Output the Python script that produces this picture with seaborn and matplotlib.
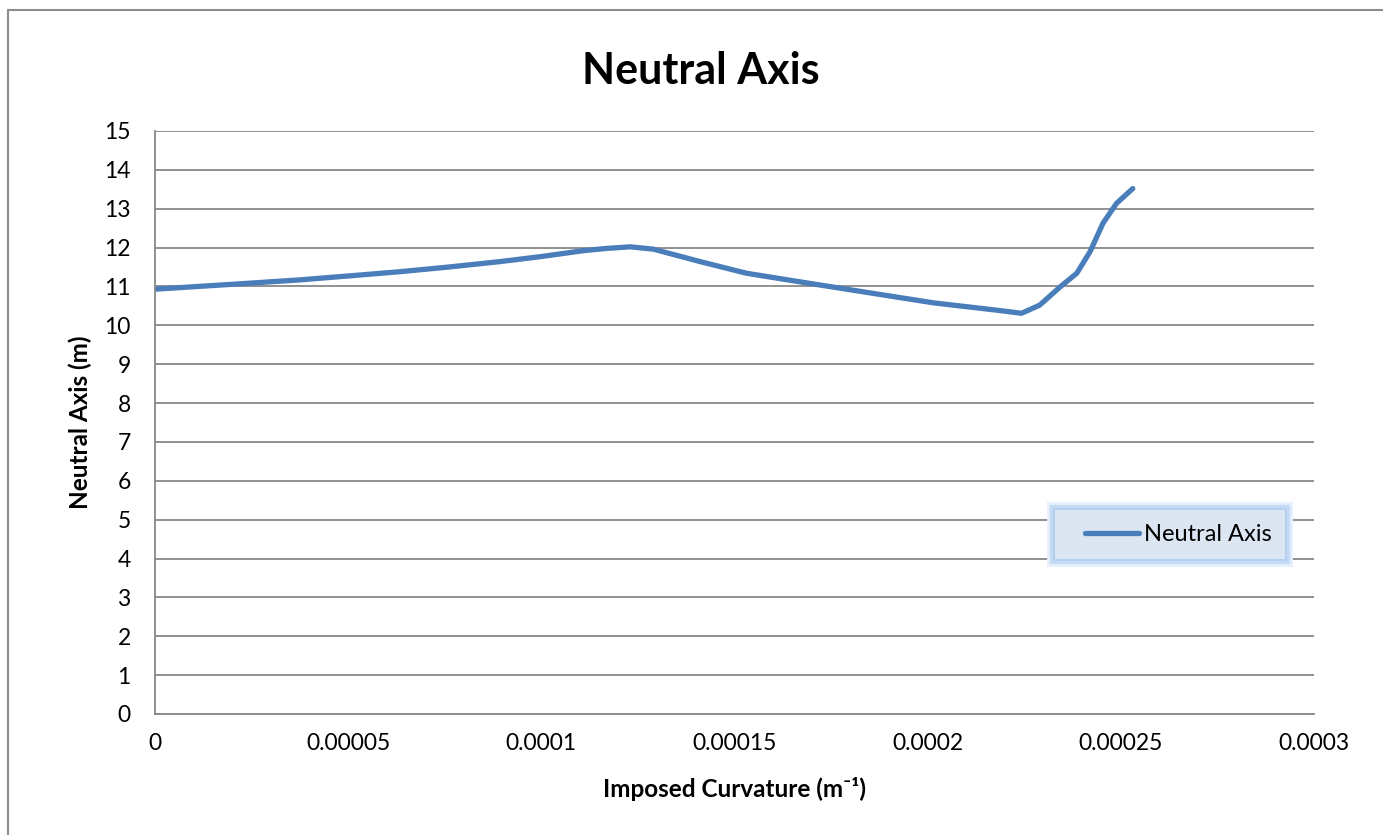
import matplotlib
matplotlib.use("Agg")
import matplotlib.pyplot as plt
import matplotlib.patheffects as pe
from matplotlib.lines import Line2D
from matplotlib.legend_handler import HandlerLine2D
import seaborn as sns
import pandas as pd

# Imposed curvature (x 1e-5 1/m) and neutral axis depth (m)
curvature_e5 = [0.0, 2.38, 3.75, 5.0, 6.34, 7.6, 8.93, 10.0, 11.08, 11.7,
                12.3, 12.9, 13.24, 14.11, 15.31, 16.69, 18.41, 20.14, 21.87,
                22.43, 22.9, 23.43, 23.86, 24.2, 24.54, 24.89, 25.31]
neutral_axis = [10.93, 11.08, 11.17, 11.27, 11.38, 11.50, 11.64, 11.77, 11.92,
                11.98, 12.02, 11.96, 11.87, 11.64, 11.34, 11.12, 10.85, 10.58,
                10.38, 10.31, 10.52, 10.99, 11.34, 11.89, 12.63, 13.14, 13.52]
x_ticks = [0, 0.00005, 0.0001, 0.00015, 0.0002, 0.00025, 0.0003]
x_tick_labels = ["0", "0.00005", "0.0001", "0.00015", "0.0002", "0.00025", "0.0003"]
y_ticks = list(range(0, 16))

df = pd.DataFrame({
    "curvature": [c * 1e-5 for c in curvature_e5],
    "na": neutral_axis,
})

sns.set_theme(style="white")
plt.rcParams["font.family"] = ["Lato", "DejaVu Sans"]
plt.rcParams["text.color"] = "black"
plt.rcParams["axes.labelcolor"] = "black"

W, H = 1383, 835
fig = plt.figure(figsize=(W / 100, H / 100), dpi=100)
fig.patch.set_facecolor("white")
ax = fig.add_axes([155 / W, 1 - 714 / H, (1314 - 155) / W, (714 - 131) / H])

line_color = "#4a7ebb"
sns.lineplot(data=df, x="curvature", y="na", ax=ax, color=line_color,
             linewidth=3.8, sort=False, legend=False)
for l in ax.lines:
    l.set_solid_capstyle("round")
    l.set_solid_joinstyle("round")

ax.set_xlim(0, 0.0003)
ax.set_ylim(0, 15)
ax.set_xticks(x_ticks)
ax.set_xticklabels(x_tick_labels)
ax.set_yticks(y_ticks)
ax.tick_params(axis="both", labelsize=16.5, colors="#888888", labelcolor="black",
               width=1.3, direction="out")
ax.tick_params(axis="x", length=6, pad=8)
ax.tick_params(axis="y", length=7, pad=10.5)

ax.grid(axis="y", color="#888888", linewidth=1.3)
ax.grid(axis="x", visible=False)
ax.set_axisbelow(True)
for side in ("top", "right"):
    ax.spines[side].set_visible(False)
for side in ("left", "bottom"):
    ax.spines[side].set_color("#888888")
    ax.spines[side].set_linewidth(1.3)

ax.set_xlabel("Imposed Curvature (m\u207b\u00b9)", fontsize=17.5,
              fontweight="bold", labelpad=16)
ax.set_ylabel("Neutral Axis (m)", fontsize=17.5, fontweight="bold", labelpad=9)
fig.text(701 / W, 1 - 71 / H, "Neutral Axis", ha="center", va="center",
         fontsize=31, fontweight="bold")

handle = Line2D([0], [0], color=line_color, linewidth=3.8, solid_capstyle="round")
leg = ax.legend([handle], ["Neutral Axis"], loc="center",
                bbox_to_anchor=(0.8758, 0.308), fontsize=17, fancybox=False,
                frameon=True, framealpha=1, facecolor="#dce6f2",
                edgecolor="#b4cff0", handlelength=3.0, handletextpad=0.2,
                borderpad=0.62, borderaxespad=0,
                handler_map={Line2D: HandlerLine2D(xpad=0.7)})
leg.get_frame().set_linewidth(1.5)
leg.get_frame().set_path_effects([
    pe.withStroke(linewidth=10, foreground="#e6f0fc"),
    pe.withStroke(linewidth=6, foreground="#c4daf5"),
    pe.Normal(),
])

# chart area border
fig.add_artist(Line2D([8 / W, 8 / W], [0, 1 - 10 / H], transform=fig.transFigure,
                      color="#8c8c8c", linewidth=1.5))
fig.add_artist(Line2D([8 / W, 1], [1 - 10 / H, 1 - 10 / H], transform=fig.transFigure,
                      color="#8c8c8c", linewidth=1.5))

fig.savefig("out.png", dpi=100)
